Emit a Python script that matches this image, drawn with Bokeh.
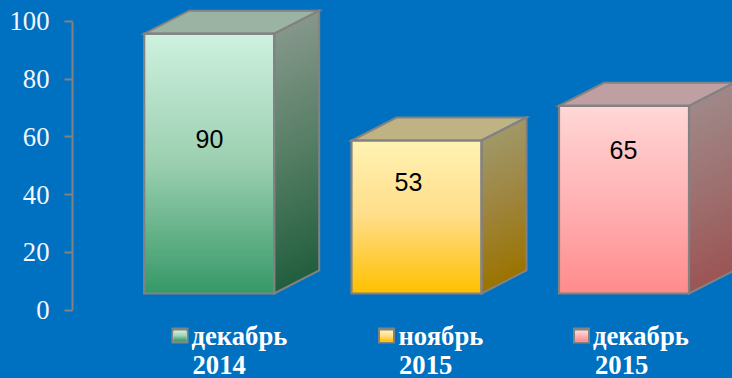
from bokeh.plotting import figure
from bokeh.embed import file_html
from bokeh.resources import INLINE
from bokeh.core.properties import value

# --- data ---
periods_month = ["декабрь", "ноябрь", "декабрь"]
periods_year = ["2014", "2015", "2015"]
values = [90, 53, 65]
y_ticks = [0, 20, 40, 60, 80, 100]

# --- colours ---
BG = "#0070C0"
EDGE = "#828282"
front_stops = [[(205, 241, 223), (155, 207, 176), (55, 153, 104)],
               [(255, 242, 179), (255, 221, 136), (255, 192, 0)],
               [(255, 214, 214), (255, 178, 180), (255, 140, 140)]]
side_stops = [[(132, 151, 138), (85, 125, 100), (34, 95, 63)],
              [(160, 152, 104), (158, 132, 60), (155, 116, 0)],
              [(160, 136, 136), (158, 112, 112), (156, 85, 85)]]
top_colors = ["#9BB3A3", "#BFB383", "#BF9FA1"]

# --- layout (pixels of the page) ---
W, H = 732, 378
LEFT = 72
Y0_PX, Y100_PX = 309.5, 20.8
PX_PER_UNIT = (Y0_PX - Y100_PX) / 100
CENTERS_PX = [208.7, 416, 623.5]
BAR_W_PX = 130
DEPTH_X_PX, DEPTH_Y_PX = 45, 23
FLOOR_PX = 16.5
LABEL_POS_PX = [(209, 138.5), (408, 181.5), (623, 149.5)]
SWATCH_PX = [179.5, 386, 581]
LEGEND_TEXT_PX = [191, 398, 592.5]
YEAR_TEXT_PX = [192, 398.5, 594.5]
LINE1_MID, LINE2_MID = 335, 364.5
STEPS = 70


def ypx(py):
    return (Y0_PX - py) / PX_PER_UNIT


p = figure(width=W, height=H, output_backend="svg", toolbar_location=None,
           x_range=(LEFT, W), y_range=(ypx(H), ypx(0)),
           min_border_left=LEFT, min_border_right=0, min_border_top=0, min_border_bottom=0,
           background_fill_color=BG, border_fill_color=BG, outline_line_color=None,
           styles={"position": "absolute", "left": "0", "top": "0", "background-color": BG})
p.grid.visible = False
p.xaxis.visible = False
ax = p.yaxis[0]
ax.ticker = y_ticks
ax.bounds = (0, 100)
ax.axis_line_color = EDGE
ax.axis_line_width = 2
ax.major_tick_line_color = EDGE
ax.major_tick_line_width = 2
ax.major_tick_out = 8
ax.major_tick_in = 0
ax.minor_tick_line_color = None
ax.major_label_text_color = "#F4F8FC"
ax.major_label_text_font = "Liberation Serif"
ax.major_label_text_font_size = "26.67px"
ax.major_label_standoff = 15


def mix(stops, t):
    if t < 0.5:
        a, b, u = stops[0], stops[1], t * 2
    else:
        a, b, u = stops[1], stops[2], (t - 0.5) * 2
    return "#%02x%02x%02x" % tuple(round(a[k] + (b[k] - a[k]) * u) for k in range(3))


floor = ypx(Y0_PX - FLOOR_PX)
dy = DEPTH_Y_PX / PX_PER_UNIT

for i, v in enumerate(values):
    l = CENTERS_PX[i] - BAR_W_PX / 2
    r = CENTERS_PX[i] + BAR_W_PX / 2
    top = floor + v
    bx = r + DEPTH_X_PX
    # gradient bands: each one is painted down to the floor, the next covers it
    fl, fr, ft, fb, fc = [], [], [], [], []
    sx, sy, sc = [], [], []
    for s in range(STEPS):
        t = s / (STEPS - 1)
        yy = top - (top - floor) * s / STEPS
        fl.append(l); fr.append(r); ft.append(yy); fb.append(floor)
        fc.append(mix(front_stops[i], t))
        sx.append([r, bx, bx, r])
        sy.append([yy, yy + dy, floor + dy, floor])
        sc.append(mix(side_stops[i], t))
    p.quad(left=fl, right=fr, top=ft, bottom=fb, fill_color=fc, line_color=None)
    p.patches(sx, sy, fill_color=sc, line_color=None)
    # top face
    p.patch([l, r, bx, l + DEPTH_X_PX], [top, top, top + dy, top + dy],
            fill_color=top_colors[i], line_color=EDGE, line_width=2, line_join="miter")
    # outlines
    p.patch([l, r, r, l], [top, top, floor, floor], fill_color=None, line_color=EDGE,
            line_width=2.2, line_join="miter")
    p.patch([r, bx, bx, r], [top, top + dy, floor + dy, floor], fill_color=None, line_color=EDGE,
            line_width=2, line_join="miter")
    # value label
    lx, ly = LABEL_POS_PX[i]
    p.text([lx], [ypx(ly)], text=[str(v)], text_align="center", text_baseline="middle",
           text_color="#000000", text_font=value("Liberation Sans"), text_font_size="25px")
    # legend swatch
    c = SWATCH_PX[i]
    p.quad(left=[c - 8.5], right=[c + 8.5], top=[ypx(327)], bottom=[ypx(343)],
           fill_color=EDGE, line_color=None)
    n = 10
    p.quad(left=[c - 6.5] * n, right=[c + 6.5] * n,
           top=[ypx(330 + 11 * k / n) for k in range(n)], bottom=[ypx(341)] * n,
           fill_color=[mix(front_stops[i], k / (n - 1)) for k in range(n)], line_color=None)
    # legend text
    p.text([LEGEND_TEXT_PX[i]], [ypx(LINE1_MID)], text=[periods_month[i]],
           text_align="left", text_baseline="middle", text_color="#FFFFFF",
           text_font=value("Liberation Serif"), text_font_style="bold", text_font_size="26.67px")
    p.text([YEAR_TEXT_PX[i]], [ypx(LINE2_MID)], text=[periods_year[i]],
           text_align="left", text_baseline="middle", text_color="#FFFFFF",
           text_font=value("Liberation Serif"), text_font_style="bold", text_font_size="26.67px")

open("out.html", "w").write(file_html(p, INLINE))
